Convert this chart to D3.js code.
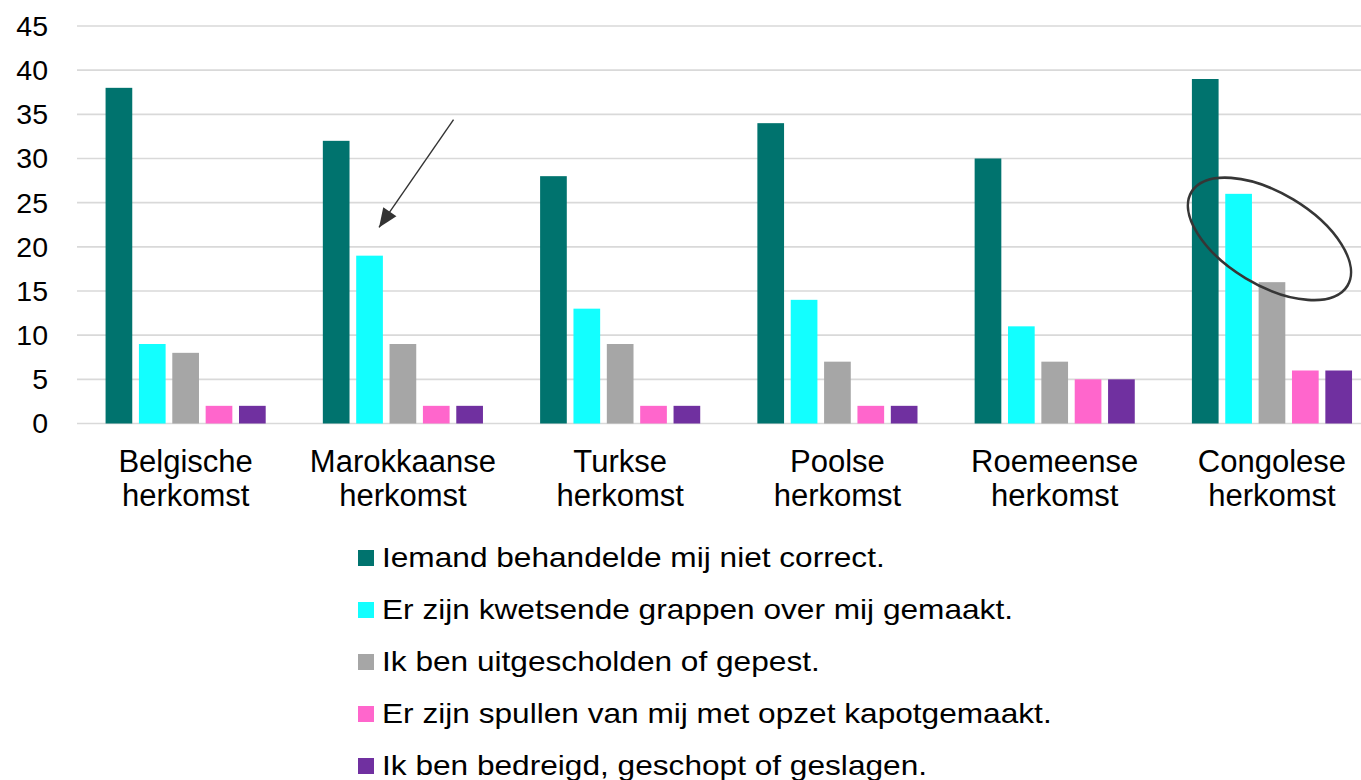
<!DOCTYPE html>
<html>
<head>
<meta charset="utf-8">
<script src="https://cdn.jsdelivr.net/npm/d3@7"></script>
<style>
  body { margin: 0; background: #fff; }
  text { font-family: "Liberation Sans", Arial, sans-serif; fill: #000; }
</style>
</head>
<body>
<div id="chart"></div>
<script>
// groups on the x axis (two lines each)
var groups = [
    ["Belgische", "herkomst"],
    ["Marokkaanse", "herkomst"],
    ["Turkse", "herkomst"],
    ["Poolse", "herkomst"],
    ["Roemeense", "herkomst"],
    ["Congolese", "herkomst"]
];
var groupKeys = groups.map(g => g.join(" "));

var seriesNames = [
    "Iemand behandelde mij niet correct.",
    "Er zijn kwetsende grappen over mij gemaakt.",
    "Ik ben uitgescholden of gepest.",
    "Er zijn spullen van mij met opzet kapotgemaakt.",
    "Ik ben bedreigd, geschopt of geslagen."
];
var seriesColors = ["#00736e", "#12ffff", "#a6a6a6", "#ff66cc", "#7030a0"];

// one array per series, in group order
var nietCorrect = [38, 32, 28, 34, 30, 39];
var grappen     = [9, 19, 13, 14, 11, 26];
var gepest      = [8, 9, 9, 7, 7, 16];
var kapot       = [2, 2, 2, 2, 5, 6];
var geslagen    = [2, 2, 2, 2, 5, 6];
var seriesValues = [nietCorrect, grappen, gepest, kapot, geslagen];

var yTicks = [0, 5, 10, 15, 20, 25, 30, 35, 40, 45];

var width = 1361;
var height = 780;
var plot = { left: 77, right: 1380.6, top: 26, bottom: 423.5 };

var svg = d3.select("#chart").append("svg")
    .attr("width", width)
    .attr("height", height);

var x0 = d3.scaleBand()
    .domain(groupKeys)
    .range([plot.left, plot.right])
    .paddingInner(0.263)
    .paddingOuter(0.1315);

var x1 = d3.scaleBand()
    .domain(seriesNames)
    .range([0, x0.bandwidth()])
    .paddingInner(0.2)
    .paddingOuter(0);

var y = d3.scaleLinear()
    .domain([0, 45])
    .range([plot.bottom, plot.top]);

// gridlines
svg.append("g")
    .selectAll("line")
    .data(yTicks)
    .enter().append("line")
    .attr("x1", plot.left)
    .attr("x2", width)
    .attr("y1", d => y(d))
    .attr("y2", d => y(d))
    .attr("stroke", "#d9d9d9")
    .attr("stroke-width", 1.6);

// y axis labels
var yAxis = svg.append("g")
    .attr("transform", "translate(48,0)")
    .call(d3.axisLeft(y).tickValues(yTicks).tickSize(0).tickPadding(0));
yAxis.select(".domain").remove();
yAxis.selectAll("text")
    .attr("font-size", 28.5)
    .attr("font-family", "Liberation Sans, Arial, sans-serif")
    .attr("fill", "#000")
    .attr("dy", "0.33em");

// bars
var rows = [];
groupKeys.forEach(function(g, gi) {
    seriesNames.forEach(function(s, si) {
        rows.push({ group: g, series: s, value: seriesValues[si][gi], color: seriesColors[si] });
    });
});

svg.append("g")
    .selectAll("rect")
    .data(rows)
    .enter().append("rect")
    .attr("x", d => x0(d.group) + x1(d.series))
    .attr("y", d => y(d.value))
    .attr("width", x1.bandwidth())
    .attr("height", d => y(0) - y(d.value))
    .attr("fill", d => d.color);

// x labels
var xLabels = svg.append("g")
    .selectAll("text")
    .data(groups)
    .enter().append("text")
    .attr("text-anchor", "middle")
    .attr("font-size", 31)
    .attr("transform", (d, i) => "translate(" + (x0(groupKeys[i]) + x0.bandwidth() / 2) + ",472)");
xLabels.selectAll("tspan")
    .data(d => d)
    .enter().append("tspan")
    .attr("x", 0)
    .attr("y", (d, i) => i * 34)
    .text(d => d);

// legend
var legend = svg.append("g")
    .selectAll("g")
    .data(seriesNames)
    .enter().append("g")
    .attr("transform", (d, i) => "translate(358," + (567 + i * 52) + ")");
legend.append("rect")
    .attr("x", 0)
    .attr("y", -17)
    .attr("width", 16)
    .attr("height", 16)
    .attr("fill", (d, i) => seriesColors[i]);
legend.append("text")
    .attr("transform", "translate(24,0) scale(1.13,1)")
    .attr("font-size", 28)
    .text(d => d);

// annotations: arrow pointing at the Marokkaanse cyan bar, ellipse round Congolese bars
var marokCyanX = x0(groupKeys[1]) + x1(seriesNames[1]) + x1.bandwidth() / 2;
var arrowFrom = [marokCyanX + 84, y(34.4)];
var arrowTo = [marokCyanX + 9.5, y(22.2)];
svg.append("line")
    .attr("x1", arrowFrom[0])
    .attr("y1", arrowFrom[1])
    .attr("x2", arrowTo[0])
    .attr("y2", arrowTo[1])
    .attr("stroke", "#333")
    .attr("stroke-width", 1.4);
svg.append("path")
    .attr("d", function() {
        // arrowhead triangle at the tip, oriented along the line
        var ang = Math.atan2(arrowTo[1] - arrowFrom[1], arrowTo[0] - arrowFrom[0]);
        var len = 19, half = 8;
        var bx = arrowTo[0] - len * Math.cos(ang), by = arrowTo[1] - len * Math.sin(ang);
        var px = -Math.sin(ang) * half, py = Math.cos(ang) * half;
        return "M" + arrowTo[0] + "," + arrowTo[1] + "L" + (bx + px) + "," + (by + py) + "L" + (bx - px) + "," + (by - py) + "Z";
    })
    .attr("fill", "#333");

var congoCenter = x0(groupKeys[5]) + x0.bandwidth() / 2;
svg.append("ellipse")
    .attr("cx", 0)
    .attr("cy", 0)
    .attr("rx", 91)
    .attr("ry", 46)
    .attr("transform", "translate(" + (congoCenter - 2.5) + "," + y(20.9) + ") rotate(31)")
    .attr("fill", "none")
    .attr("stroke", "#363636")
    .attr("stroke-width", 2.6);
</script>
</body>
</html>
